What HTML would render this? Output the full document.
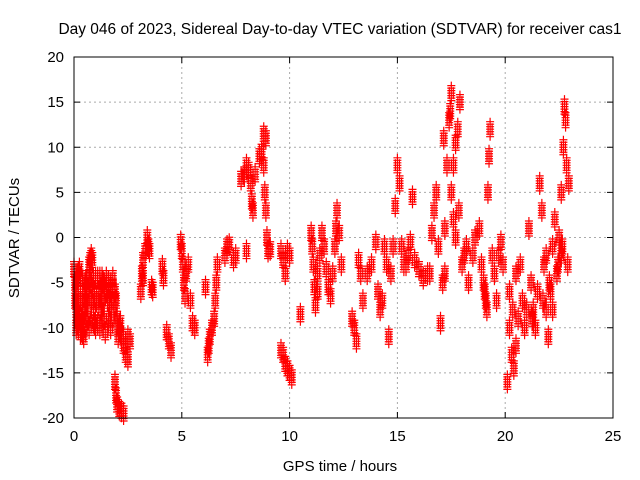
<!DOCTYPE html>
<html><head><meta charset="utf-8"><style>
body{margin:0;background:#fff;}
svg{display:block;font-family:"Liberation Sans",sans-serif;}
</style></head><body>
<svg id="chart" width="640" height="480">
<text x="340" y="34" font-size="15.5" text-anchor="middle">Day 046 of 2023, Sidereal Day-to-day VTEC variation (SDTVAR) for receiver cas1</text>
<text x="340" y="471" font-size="15" text-anchor="middle">GPS time / hours</text>
<text transform="translate(19,238) rotate(-90)" font-size="15" text-anchor="middle">SDTVAR / TECUs</text>
<g id="grid"></g><g id="marks"></g>
<rect x="74" y="57" width="539" height="361" fill="none" stroke="#000" stroke-width="1"/>
</svg>
<script>
const xTicks=[0,5,10,15,20,25];
const yTicks=[-20,-15,-10,-5,0,5,10,15,20];
const times=[0,0.05,0.05,0.1,0.1,0.15,0.2,0.2,0.25,0.3,0.3,0.4,0.45,0.5,0.5,0.55,0.6,0.65,0.7,0.7,0.75,0.8,0.85,0.9,0.9,0.95,1.0,1.0,1.1,1.1,1.2,1.2,1.3,1.3,1.4,1.45,1.5,1.5,1.6,1.6,1.7,1.7,1.8,1.85,1.9,1.95,2.0,2.05,2.1,2.2,2.3,2.4,2.3,2.5,2.5,2.6,1.9,1.95,2.0,2.1,2.2,2.3,0.1,0.2,0.3,0.35,0.6,0.8,1.05,1.35,1.55,1.75,0.15,0.4,0.55,0.75,0.95,1.15,1.25,1.65,1.8,2.15,
3.1,3.15,3.2,3.3,3.4,3.45,3.5,3.6,3.65,3.2,4.1,4.15,4.3,4.4,4.5,
4.95,5.0,5.05,5.1,5.15,5.2,5.3,5.4,5.5,5.6,6.1,6.2,6.25,6.3,6.4,6.5,6.55,6.6,6.65,7.0,7.1,7.2,7.4,7.5,
7.75,7.9,8.0,8.1,8.2,8.25,8.3,8.4,8.6,8.7,8.8,8.9,8.8,8.85,8.9,8.95,9.0,9.1,8.0,
9.6,9.7,9.8,9.9,10.0,9.6,9.7,9.8,9.9,10.0,10.1,10.5,
11.0,11.05,11.1,11.15,11.2,11.3,11.3,11.4,11.5,11.6,11.7,11.8,11.9,12.0,12.1,12.15,12.2,12.3,12.4,
12.9,13.0,13.1,13.2,13.3,13.4,13.6,13.8,14.0,14.1,14.2,14.3,14.4,14.5,14.6,14.7,14.8,14.9,15.0,15.1,15.2,15.3,15.5,15.6,15.7,15.8,16.0,16.2,16.5,16.6,16.7,16.8,16.9,17.0,17.1,17.2,17.3,17.4,17.5,17.5,17.6,17.7,17.8,17.9,17.6,17.7,18.0,18.2,18.3,18.5,18.6,18.8,18.9,19.0,19.1,19.15,19.2,19.3,19.25,19.4,19.5,19.6,19.7,19.8,19.9,
20.1,20.2,20.3,20.4,20.5,20.6,20.7,20.8,20.9,21.0,21.1,21.2,21.3,21.4,21.5,21.6,21.7,21.8,21.9,22.0,22.1,22.2,22.3,22.4,22.5,22.6,22.7,22.75,22.8,22.85,22.9,22.95,22.2,20.2,20.5,21.9,22.6,17.2,15.4,16.4,18.1,19.05,20.35,21.25,21.75,22.05,22.45,22.65,17.15,17.45,17.85];
const values=[-3.5,-5,-7,-8,-10,-9.5,-10,-4,-3.5,-4.5,-10.5,-10.5,-11,-6,-8,-5,-4.5,-9,-10,-3,-2.5,-2,-2.5,-4.5,-8,-9.5,-10,-4.5,-4.5,-9.5,-10,-4.5,-4.5,-7,-9,-10.5,-6,-4.5,-5,-9,-10,-6,-5.5,-8,-6,-7,-9,-11,-10,-11,-12,-13,-11,-11,-13.5,-11.5,-16,-17.5,-18.5,-19,-19.2,-19.5,-6,-7,-7,-9,-6,-7,-7,-5,-7,-8,-8.5,-9,-7,-5,-6,-6,-8,-7,-4.5,-9.5,
-6,-4,-2.5,-1.5,0,-1,-1.5,-5.5,-5.8,-4.5,-3.2,-4.5,-10.5,-11.5,-12.5,
-0.5,-1.5,-3,-5,-6.5,-4,-3,-7,-9.5,-10,-5.5,-13,-12,-11,-10,-9,-7,-5,-3,-2,-1,-0.8,-2.5,-2,
6.5,7,8,7.5,6,4,3,7,9,9.5,11.5,11,8,5,3,0,-1.5,-1.3,-1.5,
-1.5,-2.5,-4,-1.5,-2,-12.5,-13,-14,-14.5,-15,-15.5,-8.5,
0.5,-1,-3,-5.5,-7.5,-6,-4,-2,0.5,-1,-3.5,-5.5,-6.5,-4,-1,1,3,0.5,-3,
-9,-10,-11.5,-2.5,-4,-7,-4,-3,-0.5,-6,-8,-7,-1,-3,-11,-4,-1,3.5,8,6,-1,-3,-2,-0.5,4.5,-2.5,-3.5,-4.5,-4,0.5,3,5,-1,-9.5,-5,1,8,13,16,5,8,10.5,12,15,2,0,-3,-1,-5,-2,0,1,-3,-5,-7,-8,5,12,9,-2,-4,-7,-2,-0.5,-3,
-16,-10,-13,-14.5,-12,-9,-3,-7,-10,-8,1,-5,-8,-10,-6,6,3,-3,-8,-11,-6,-1,2,-4,0,5,10,14.5,13,8,-3,6,-8,-6,-4,-2,-2,-4,-3,-4,-2,-6,-8,-9,-7,-5,-3,-1,11,14,3];
const X0=74,X1=613,Y0=418,Y1=57;
function sx(t){return X0+(t-0)/(25-0)*(X1-X0);}
function sy(v){return Y0-(v+20)/40*(Y0-Y1);}
const NS="http://www.w3.org/2000/svg";
const svg=document.getElementById('chart');
const grid=document.getElementById('grid');
const marks=document.getElementById('marks');
xTicks.forEach(t=>{
 const x=sx(t);
 if(t>0&&t<25){const l=document.createElementNS(NS,'line');
 l.setAttribute('x1',x);l.setAttribute('x2',x);l.setAttribute('y1',Y1);l.setAttribute('y2',Y0);
 l.setAttribute('stroke','#aaa');l.setAttribute('stroke-dasharray','2,3');
 
 
 grid.appendChild(l);}
 const tk=document.createElementNS(NS,'path');
 tk.setAttribute('d',`M${x},${Y0}v-6M${x},${Y1}v6`);tk.setAttribute('stroke','#000');
 
 
 grid.appendChild(tk);
 const tx=document.createElementNS(NS,'text');
 tx.setAttribute('x',x);tx.setAttribute('y',Y0+23);tx.setAttribute('font-size','15');tx.setAttribute('text-anchor','middle');
 tx.textContent=t;
 
 
 svg.appendChild(tx);
});
yTicks.forEach(v=>{
 const y=sy(v);
 if(v>-20&&v<20){const l=document.createElementNS(NS,'line');
 l.setAttribute('x1',X0);l.setAttribute('x2',X1);l.setAttribute('y1',y);l.setAttribute('y2',y);
 l.setAttribute('stroke','#aaa');l.setAttribute('stroke-dasharray','2,3');
 
 
 grid.appendChild(l);}
 const tk=document.createElementNS(NS,'path');
 tk.setAttribute('d',`M${X0},${y}h6M${X1},${y}h-6`);tk.setAttribute('stroke','#000');
 
 
 grid.appendChild(tk);
 const tx=document.createElementNS(NS,'text');
 tx.setAttribute('x',X0-10);tx.setAttribute('y',y+5);tx.setAttribute('font-size','15');tx.setAttribute('text-anchor','end');
 tx.textContent=v;
 
 
 svg.appendChild(tx);
});
let d='';
for(let i=0;i<times.length;i++){
 const x=sx(times[i]),y=sy(values[i]);
 for(let k=-3;k<=3;k++){const yy=y+k*2.5;
 d+=`M${x-4},${yy}h8M${x},${yy-4}v8`;}
 d+=`M${x-2},${y-6}v12M${x+2},${y-6}v12`;
}
const p=document.createElementNS(NS,'path');
p.setAttribute('d',d);p.setAttribute('stroke','#f00');p.setAttribute('stroke-width','1.2');p.setAttribute('fill','none');


marks.appendChild(p);
</script>
</body></html>
